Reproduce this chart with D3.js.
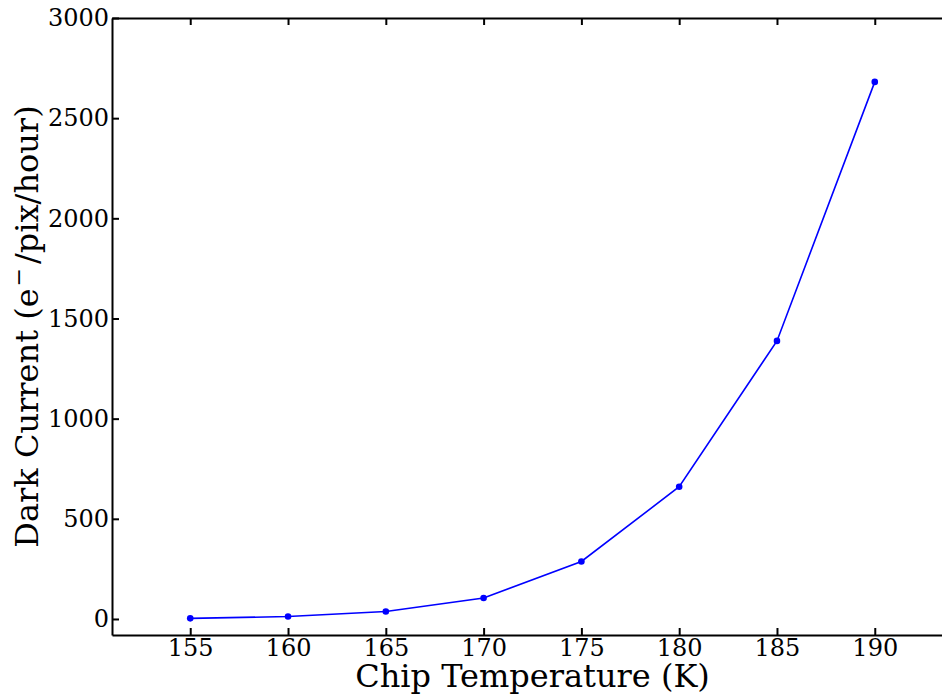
<!DOCTYPE html>
<html>
<head>
<meta charset="utf-8">
<script src="https://cdn.jsdelivr.net/npm/d3@7"></script>
<style>
  body { margin: 0; background: #fff; }
  svg { display: block; }
  text { font-family: "DejaVu Serif", serif; fill: #000; }
</style>
</head>
<body>
<svg class="display"></svg>
<script>
const temps = [155, 160, 165, 170, 175, 180, 185, 190];
const darkCurrent = [3, 12, 37, 105, 287, 660, 1388, 2681];
const xTicks = [155, 160, 165, 170, 175, 180, 185, 190];
const yTicks = [0, 500, 1000, 1500, 2000, 2500, 3000];

const width = 942;
const height = 695;
const margin = {top: 18, right: -11, bottom: 60, left: 112};

const svg = d3.select('.display')
  .attr('width', width)
  .attr('height', height);

const x = d3.scaleLinear()
  .domain([151, 194])
  .range([margin.left, width - margin.right]);

const y = d3.scaleLinear()
  .domain([-80, 3000])
  .range([height - margin.bottom, margin.top]);

const tickLen = 7;
const fontSize = 24;
const fmt = d3.format('d');

// bottom axis, inward ticks
const xAxis = svg.append('g')
  .attr('transform', 'translate(0,' + y(-80) + ')')
  .call(d3.axisBottom(x).tickValues(xTicks).tickFormat(fmt)
    .tickSizeInner(-tickLen).tickSizeOuter(0).tickPadding(4));

// top axis, inward ticks, no labels
const xTop = svg.append('g')
  .attr('transform', 'translate(0,' + y(3000) + ')')
  .call(d3.axisTop(x).tickValues(xTicks).tickSizeInner(-tickLen).tickSizeOuter(0).tickFormat(''));

const yAxis = svg.append('g')
  .attr('transform', 'translate(' + x(151) + ',0)')
  .call(d3.axisLeft(y).tickValues(yTicks).tickFormat(fmt)
    .tickSizeInner(-tickLen).tickSizeOuter(0).tickPadding(3));

[xAxis, xTop, yAxis].forEach(g => {
  g.selectAll('.domain').attr('stroke', '#000').attr('stroke-width', 2);
  g.selectAll('.tick line').attr('stroke', '#000').attr('stroke-width', 2);
  g.selectAll('.tick text')
    .style('font-family', '"DejaVu Serif", serif')
    .style('font-size', fontSize + 'px')
    .attr('fill', '#000');
});

const line = d3.line()
  .x((d, i) => x(temps[i]))
  .y(d => y(d));

svg.append('path')
  .datum(darkCurrent)
  .attr('fill', 'none')
  .attr('stroke', '#0000ff')
  .attr('stroke-width', 1.6)
  .attr('d', line);

svg.selectAll('.pt')
  .data(darkCurrent)
  .enter().append('circle')
    .attr('class', 'pt')
    .attr('cx', (d, i) => x(temps[i]))
    .attr('cy', d => y(d))
    .attr('r', 3.3)
    .attr('fill', '#0000ff');

// axis labels
svg.append('text')
  .attr('x', (x(151) + x(194)) / 2)
  .attr('y', 687)
  .attr('text-anchor', 'middle')
  .style('font-size', '32px')
  .text('Chip Temperature (K)');

const yl = svg.append('text')
  .attr('transform', 'translate(38,' + (y(-80) + y(3000)) / 2 + ') rotate(-90)')
  .attr('text-anchor', 'middle')
  .style('font-size', '32px');
yl.append('tspan').text('Dark Current (e');
yl.append('tspan').attr('dy', -12).attr('dx', 2).style('font-size', '22px').text('\u2212');
yl.append('tspan').attr('dy', 12).attr('dx', 4).text('/pix/hour)');
</script>
</body>
</html>
